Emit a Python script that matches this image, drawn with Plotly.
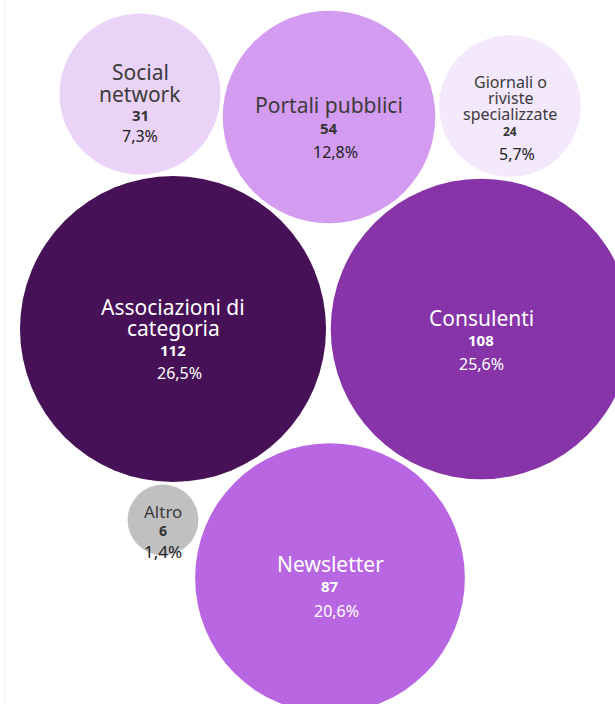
import math
import plotly.graph_objects as go

# ---- data ----
categories = ["Social network", "Portali pubblici", "Giornali o riviste specializzate",
              "Associazioni di categoria", "Consulenti", "Altro", "Newsletter"]
label_lines = [["Social", "network"], ["Portali pubblici"], ["Giornali o", "riviste", "specializzate"],
               ["Associazioni di", "categoria"], ["Consulenti"], ["Altro"], ["Newsletter"]]
counts = [31, 54, 24, 112, 108, 6, 87]

# ---- layout / style (not data) ----
centers_x = [140, 329, 510, 173, 481, 163, 330]
centers_y = [94, 117, 106, 329, 329, 520, 578]
colors = ["#ebd3f8", "#d49cf0", "#f4e8fd", "#461157", "#8634a7", "#c0c0c0", "#b866e2"]
text_dark = [True, True, True, False, False, True, False]
label_size = [21, 21, 16, 21, 21, 17, 21]
num_size = [15, 15, 12, 15, 15, 14, 15]
pct_size = [16, 16, 16, 16, 16, 17, 16]
# vertical positions of text lines (relative to circle center)
label_top = [-22, -12, -24, -22, -11, -9, -14]
line_gap = [22, 21, 16, 21, 21, 20, 21]
num_dy = [21, 23, 17, 22, 22, 19, 22]
pct_dy = [21, 24, 23, 23, 24, 21, 25]
pct_dx = [0, 6, 7, 6, 0, 0, 6]

K = 14.46  # px radius per sqrt(count)
total = sum(counts)

W, H = 615, 704
fig = go.Figure()

fig.add_trace(go.Scatter(
    x=centers_x, y=centers_y, mode="markers",
    marker=dict(size=[2 * K * math.sqrt(c) for c in counts], sizemode="diameter", sizeref=1,
                color=colors, opacity=1, line=dict(width=0)),
    hoverinfo="text", text=categories, showlegend=False,
))

font_family = "Noto Sans, Open Sans, sans-serif"
for i, cat in enumerate(categories):
    cx, cy = centers_x[i], centers_y[i]
    lc = "#3b3b3b" if text_dark[i] else "#ffffff"
    nc = "#333333" if text_dark[i] else "#ffffff"
    pc = "#222222" if text_dark[i] else "#ffffff"
    y = cy + label_top[i]
    for j, line in enumerate(label_lines[i]):
        if j > 0:
            y += line_gap[i]
        fig.add_annotation(x=cx, y=y, text=line, showarrow=False,
                           font=dict(family=font_family, size=label_size[i], color=lc),
                           xanchor="center", yanchor="middle")
    y += num_dy[i]
    fig.add_annotation(x=cx, y=y, text="<b>%d</b>" % counts[i], showarrow=False,
                       font=dict(family=font_family, size=num_size[i], color=nc),
                       xanchor="center", yanchor="middle")
    y += pct_dy[i]
    pct = ("%.1f%%" % (100 * counts[i] / total)).replace(".", ",")
    fig.add_annotation(x=cx + pct_dx[i], y=y, text=pct, showarrow=False,
                       font=dict(family=font_family, size=pct_size[i], color=pc),
                       xanchor="center", yanchor="middle")

fig.add_shape(type="line", x0=4.5, x1=4.5, y0=0, y1=H, xref="x", yref="y",
              line=dict(color="#f1f1f1", width=1), layer="below")

fig.update_layout(
    width=W, height=H, margin=dict(l=0, r=0, t=0, b=0),
    paper_bgcolor="white", plot_bgcolor="white",
    xaxis=dict(range=[0, W], visible=False, fixedrange=True),
    yaxis=dict(range=[H, 0], visible=False, fixedrange=True),
)

fig.write_html("out.html", config={"displayModeBar": False},
               post_script="document.body.style.margin='0';document.body.style.overflow='hidden';")
